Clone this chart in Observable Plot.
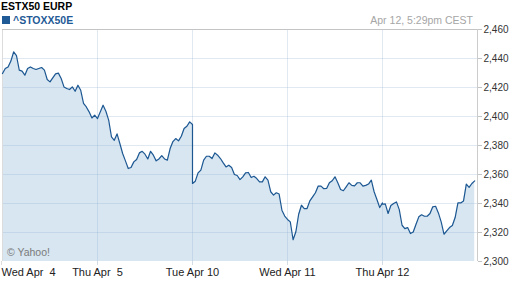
<!DOCTYPE html>
<html><head><meta charset="utf-8">
<script src="https://cdn.jsdelivr.net/npm/d3@7"></script>
<script src="https://cdn.jsdelivr.net/npm/@observablehq/plot@0.6"></script>
<style>
body{margin:0;background:#fff;font-family:"Liberation Sans",Arial,sans-serif;}
#wrap{position:relative;width:512px;height:288px;overflow:hidden}
#wrap svg{position:absolute;left:0;top:0}
#wrap svg text{white-space:pre}
.t{position:absolute;white-space:pre;line-height:1}
</style></head><body>
<div id="wrap"></div>
<script>
// Day labels (trading sessions) and tick values
const dayLabels = ["Wed Apr\u00a0 4", "Thu Apr\u00a0 5", "Tue Apr 10", "Wed Apr 11", "Thu Apr 12"];
const yTicks = [2300, 2320, 2340, 2360, 2380, 2400, 2420, 2440, 2460];
const sessionMinutes = 510; // 9:00 - 17:30
const stepMinutes = 15;

// ^STOXX50E intraday values, every 15 minutes from 9:00
const apr04 = [2429.6, 2433.1, 2434.2, 2438.2, 2444.6, 2442.0, 2432.0, 2431.3, 2428.5, 2433.1,
               2434.2, 2433.1, 2432.4, 2433.1, 2433.8, 2432.0, 2425.5, 2423.9, 2426.7, 2429.4,
               2429.9, 2426.2, 2420.4, 2419.3, 2418.6, 2420.4, 2417.4, 2421.6, 2418.1, 2409.0,
               2406.6, 2403.2, 2399.0, 2400.9, 2398.6];
const apr05 = [2398.6, 2403.2, 2407.8, 2403.6, 2397.5, 2385.9, 2383.6, 2388.0, 2381.4, 2374.5,
               2369.4, 2364.1, 2364.8, 2368.7, 2370.3, 2374.9, 2376.0, 2374.0, 2370.7, 2376.0,
               2373.3, 2369.4, 2370.7, 2373.0, 2370.7, 2369.9, 2377.9, 2382.7, 2384.8, 2383.2,
               2386.4, 2391.7, 2393.3, 2396.3, 2394.5];
const apr10 = [2353.8, 2355.4, 2361.1, 2363.0, 2369.9, 2372.6, 2372.6, 2371.0, 2374.9, 2373.3,
               2371.0, 2368.0, 2365.2, 2366.4, 2364.8, 2360.0, 2359.3, 2356.5, 2358.4, 2361.1,
               2361.4, 2357.9, 2358.8, 2357.2, 2354.9, 2354.9, 2358.4, 2356.1, 2348.1, 2345.8,
               2347.4, 2346.5, 2335.4, 2331.3, 2329.0];
const apr11 = [2329.0, 2327.3, 2315.0, 2320.5, 2332.6, 2338.8, 2336.5, 2336.5, 2341.8, 2344.6,
               2347.4, 2352.0, 2352.0, 2350.2, 2350.4, 2354.3, 2355.7, 2358.4, 2354.3, 2349.7,
               2348.8, 2351.5, 2354.3, 2352.5, 2352.2, 2354.3, 2354.3, 2352.0, 2352.5, 2353.4,
               2356.1, 2348.1, 2342.8, 2337.2, 2340.4];
const apr12 = [2339.5, 2339.7, 2333.1, 2338.6, 2340.0, 2341.1, 2335.8, 2325.0, 2322.7, 2323.4,
               2319.3, 2320.4, 2325.7, 2330.8, 2332.2, 2331.2, 2331.2, 2333.1, 2337.7, 2338.1,
               2333.5, 2327.3, 2318.8, 2321.1, 2323.4, 2324.8, 2330.3, 2340.4, 2340.4, 2341.8,
               2353.4, 2351.1, 2353.8, 2355.6];

const rows = [];
[apr04, apr05, apr10, apr11, apr12].forEach((vals, d) =>
  vals.forEach((v, i) => rows.push({t: d + i * stepMinutes / sessionMinutes, v})));

const dayIdx = dayLabels.map((_, i) => i);
const yMin = yTicks[0], yMax = yTicks[yTicks.length - 1];

const chart = Plot.plot({
  width: 512, height: 288,
  marginTop: 29, marginBottom: 27, marginLeft: 2, marginRight: 35,
  style: {fontFamily: '"Liberation Sans", Arial, sans-serif', background: "transparent", color: "#333"},
  x: {domain: [0, dayLabels.length], axis: null},
  y: {domain: [yMin, yMax], axis: null},
  marks: [
    Plot.areaY(rows, {x: "t", y1: yMin, y2: "v", fill: "#d7e6f1"}),
    Plot.ruleY(yTicks.slice(1, -1), {stroke: "#8fb0cf", strokeOpacity: 0.28}),
    Plot.ruleX(dayIdx.slice(1), {stroke: "#8fb0cf", strokeOpacity: 0.28}),
    Plot.ruleX([0], {stroke: "#dcdcdc"}),
    Plot.ruleX([dayLabels.length], {stroke: "#cccccc"}),
    Plot.ruleY([yMax], {stroke: "#c4c4c4"}),
    Plot.lineY(rows, {x: "t", y: "v", stroke: "#1c5792", strokeWidth: 1.2}),
    Plot.axisY(yTicks, {anchor: "right", label: null, tickSize: 4, tickPadding: 2, tickFormat: d3.format(","),
      fontSize: 10, stroke: "#c4c4c4", fill: "#333"}),
    Plot.axisX(dayIdx.slice(1), {label: null, tickSize: 4, tickPadding: 3, tickFormat: i => dayLabels[i],
      fontSize: 11, stroke: "#d4dce6", fill: "#222"}),
    Plot.axisX([0], {label: null, tickSize: 4, tickPadding: 3, tickFormat: i => dayLabels[i], textAnchor: "start",
      dx: -1, fontSize: 11, stroke: "#dcdcdc", fill: "#222"})
  ]
});

const wrap = document.getElementById("wrap");
wrap.appendChild(chart);
wrap.insertAdjacentHTML("beforeend", `
<div class="t" style="left:1px;top:1px;font-weight:bold;font-size:10.5px;color:#000">ESTX50 EURP</div>
<div style="position:absolute;left:2px;top:16px;width:8px;height:8px;background:#1f5a96"></div>
<div class="t" style="left:13px;top:15px;font-weight:bold;font-size:10.5px;color:#1f5a96">^STOXX50E</div>
<div class="t" style="right:39px;top:15px;font-size:10.5px;color:#a6a6a6">Apr 12, 5:29pm CEST</div>
<div class="t" style="left:7px;top:247px;font-size:10.5px;color:#7a7a7a">© Yahoo!</div>
`);
</script>
</body></html>
